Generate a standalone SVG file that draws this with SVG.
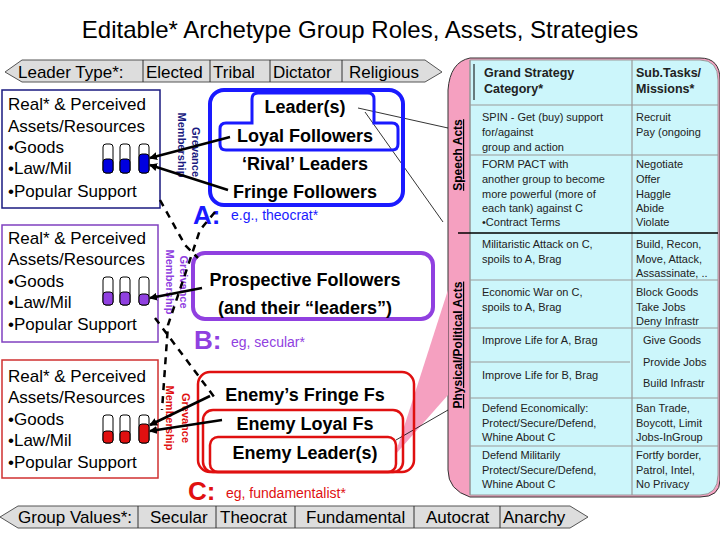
<svg xmlns="http://www.w3.org/2000/svg" width="720" height="540" viewBox="0 0 720 540">
<defs>
<marker id="ah" markerWidth="8" markerHeight="8" refX="7" refY="4" orient="auto" markerUnits="userSpaceOnUse"><path d="M0,0 L8,4 L0,8 z" fill="#000"/></marker>
<style>
text{font-family:"Liberation Sans",Arial,sans-serif}
.box{fill:#fff;stroke-width:1.5}
.lt{font-size:17px}
.gt{font-size:18px;font-weight:bold;text-anchor:middle}
.cell{font-size:11px;fill:#222}
.hd{font-size:12.5px;font-weight:bold;fill:#222}
.band{fill:#ddd;stroke:#555;stroke-width:1}
.bt{font-size:17px}
.arr{stroke:#000;stroke-width:2.5;fill:none;marker-end:url(#ah)}
.dash{stroke:#000;stroke-width:2.5;fill:none;stroke-dasharray:7,6}
.grid{stroke:#999;stroke-width:1.2}
.gv{font-size:11px;font-weight:bold;text-anchor:middle}
</style>
</defs>
<rect width="720" height="540" fill="#fff"/>
<text x="360" y="38" text-anchor="middle" font-size="24">Editable* Archetype Group Roles, Assets, Strategies</text>

<g id="top-band">
<polygon class="band" points="5,72 22,60 425,60 442,72 425,82 22,82"/>
<line x1="143" y1="60" x2="143" y2="82" stroke="#333"/><line x1="210" y1="60" x2="210" y2="82" stroke="#333"/><line x1="270" y1="60" x2="270" y2="82" stroke="#333"/><line x1="342" y1="60" x2="342" y2="82" stroke="#333"/>
<text class="bt" x="18" y="78">Leader Type*:</text><text class="bt" x="146" y="78">Elected</text><text class="bt" x="213" y="78">Tribal</text><text class="bt" x="273" y="78">Dictator</text><text class="bt" x="349" y="78">Religious</text>
</g>
<g id="bottom-band">
<polygon class="band" points="0,517 18,506 570,506 588,517 570,528 18,528"/>
<line x1="138" y1="506" x2="138" y2="528" stroke="#333"/><line x1="216" y1="506" x2="216" y2="528" stroke="#333"/><line x1="295" y1="506" x2="295" y2="528" stroke="#333"/><line x1="414" y1="506" x2="414" y2="528" stroke="#333"/><line x1="500" y1="506" x2="500" y2="528" stroke="#333"/>
<text class="bt" x="18" y="523">Group Values*:</text><text class="bt" x="150" y="523">Secular</text><text class="bt" x="220" y="523">Theocrat</text><text class="bt" x="306" y="523">Fundamental</text><text class="bt" x="426" y="523">Autocrat</text><text class="bt" x="503" y="523">Anarchy</text>
</g>

<g id="right-panel">
<path d="M470,58 L700,58 Q720,58 720,80 L720,480 Q720,497 700,497 L470,497 Q448,490 448,470 L448,90 Q450,62 470,58 z" fill="#f5a0c0" stroke="#333"/>
<path d="M470,60 L700,60 Q718,60 718,80 L718,475 Q718,495 700,495 L470,495 Z" fill="#ccf6fb" stroke="#999"/>
<line class="grid" x1="470" y1="60" x2="470" y2="495"/><line class="grid" x1="632" y1="60" x2="632" y2="495"/>
<line class="grid" x1="470" y1="105" x2="718" y2="105"/><line class="grid" x1="470" y1="155" x2="718" y2="155"/>
<line x1="458" y1="233" x2="718" y2="233" stroke="#000" stroke-width="1.5"/>
<line class="grid" x1="470" y1="280" x2="718" y2="280"/><line class="grid" x1="470" y1="328" x2="718" y2="328"/><line class="grid" x1="470" y1="362" x2="630" y2="362"/><line class="grid" x1="470" y1="398" x2="718" y2="398"/><line class="grid" x1="470" y1="446" x2="718" y2="446"/>
<line x1="474" y1="64" x2="474" y2="100" stroke="#000"/>
<text class="hd" x="484" y="77">Grand Strategy</text><text class="hd" x="484" y="93">Category*</text>
<text class="hd" x="636" y="77">Sub.Tasks/</text><text class="hd" x="636" y="93">Missions*</text>
<text class="cell" x="482" y="121">SPIN - Get (buy) support</text><text class="cell" x="482" y="136">for/against</text><text class="cell" x="482" y="151">group and action</text>
<text class="cell" x="636" y="121">Recruit</text><text class="cell" x="636" y="136">Pay (ongoing</text>
<text class="cell" x="482" y="168">FORM PACT with</text><text class="cell" x="482" y="183">another group to become</text><text class="cell" x="482" y="198">more powerful (more of</text><text class="cell" x="482" y="212">each tank) against C</text><text class="cell" x="482" y="226">•Contract Terms</text>
<text class="cell" x="636" y="168">Negotiate</text><text class="cell" x="636" y="183">Offer</text><text class="cell" x="636" y="198">Haggle</text><text class="cell" x="636" y="212">Abide</text><text class="cell" x="636" y="226">Violate</text>
<text class="cell" x="482" y="248">Militaristic Attack on C,</text><text class="cell" x="482" y="263">spoils to A, Brag</text>
<text class="cell" x="636" y="248">Build, Recon,</text><text class="cell" x="636" y="263">Move, Attack,</text><text class="cell" x="636" y="277">Assassinate, ..</text>
<text class="cell" x="482" y="296">Economic War on C,</text><text class="cell" x="482" y="311">spoils to A, Brag</text>
<text class="cell" x="636" y="296">Block Goods</text><text class="cell" x="636" y="311">Take Jobs</text><text class="cell" x="636" y="325">Deny Infrastr</text>
<text class="cell" x="482" y="344">Improve Life for A, Brag</text><text class="cell" x="482" y="379">Improve Life for B, Brag</text>
<text class="cell" x="643" y="344">Give Goods</text><text class="cell" x="643" y="366">Provide Jobs</text><text class="cell" x="643" y="387">Build Infrastr</text>
<text class="cell" x="482" y="412">Defend Economically:</text><text class="cell" x="482" y="427">Protect/Secure/Defend,</text><text class="cell" x="482" y="441">Whine About C</text>
<text class="cell" x="636" y="412">Ban Trade,</text><text class="cell" x="636" y="427">Boycott, Limit</text><text class="cell" x="636" y="441">Jobs-InGroup</text>
<text class="cell" x="482" y="459">Defend Militarily</text><text class="cell" x="482" y="474">Protect/Secure/Defend,</text><text class="cell" x="482" y="488">Whine About C</text>
<text class="cell" x="636" y="459">Fortfy border,</text><text class="cell" x="636" y="474">Patrol, Intel,</text><text class="cell" x="636" y="488">No Privacy</text>
<text x="462" y="155" transform="rotate(-90 462 155)" text-anchor="middle" font-size="12" font-weight="bold" text-decoration="underline">Speech Acts</text>
<text x="462" y="345" transform="rotate(-90 462 345)" text-anchor="middle" font-size="12" font-weight="bold" text-decoration="underline">Physical/Political Acts</text>
</g>

<g id="wedge">
<polygon points="395,455 448,290 448,395" fill="#f5a0c0"/>
<line x1="358" y1="108" x2="448" y2="128" stroke="#000" stroke-width="0.8"/>
<line x1="365" y1="112" x2="443" y2="222" stroke="#000" stroke-width="0.8"/>
<line x1="396" y1="440" x2="448" y2="410" stroke="#000" stroke-width="0.8"/>
</g>

<g id="assets-A">
<rect class="box" x="2" y="90" width="158" height="118" stroke="#1a1a80"/>
<text class="lt" x="8" y="110">Real* &amp; Perceived</text><text class="lt" x="8" y="132">Assets/Resources</text><text class="lt" x="8" y="153">•Goods</text><text class="lt" x="8" y="174">•Law/Mil</text><text class="lt" x="8" y="197">•Popular Support</text>
<g stroke="#000" stroke-width="1"><rect x="103" y="144" width="10" height="29" rx="3" fill="#fff"/><rect x="103" y="159" width="10" height="14" rx="3" fill="#0000e0"/><rect x="120" y="144" width="10" height="29" rx="3" fill="#fff"/><rect x="120" y="159" width="10" height="14" rx="3" fill="#0000e0"/><rect x="139" y="144" width="10" height="29" rx="3" fill="#fff"/><rect x="139" y="154" width="10" height="19" rx="3" fill="#0000e0"/></g>
</g>
<g id="assets-B">
<rect class="box" x="2" y="225" width="156" height="117" stroke="#8040c0"/>
<text class="lt" x="8" y="244">Real* &amp; Perceived</text><text class="lt" x="8" y="265">Assets/Resources</text><text class="lt" x="8" y="287">•Goods</text><text class="lt" x="8" y="308">•Law/Mil</text><text class="lt" x="8" y="330">•Popular Support</text>
<g stroke="#000" stroke-width="1"><rect x="103" y="277" width="10" height="28" rx="3" fill="#fff"/><rect x="103" y="292" width="10" height="13" rx="3" fill="#9040e0"/><rect x="120" y="277" width="10" height="28" rx="3" fill="#fff"/><rect x="120" y="292" width="10" height="13" rx="3" fill="#9040e0"/><rect x="139" y="277" width="10" height="28" rx="3" fill="#fff"/><rect x="139" y="294" width="10" height="11" rx="3" fill="#9040e0"/></g>
</g>
<g id="assets-C">
<rect class="box" x="2" y="360" width="156" height="118" stroke="#d03030"/>
<text class="lt" x="8" y="382">Real* &amp; Perceived</text><text class="lt" x="8" y="403">Assets/Resources</text><text class="lt" x="8" y="425">•Goods</text><text class="lt" x="8" y="446">•Law/Mil</text><text class="lt" x="8" y="468">•Popular Support</text>
<g stroke="#000" stroke-width="1"><rect x="103" y="415" width="10" height="28" rx="3" fill="#fff"/><rect x="103" y="431" width="10" height="12" rx="3" fill="#e01010"/><rect x="120" y="415" width="10" height="28" rx="3" fill="#fff"/><rect x="120" y="431" width="10" height="12" rx="3" fill="#e01010"/><rect x="139" y="415" width="10" height="28" rx="3" fill="#fff"/><rect x="139" y="424" width="10" height="19" rx="3" fill="#e01010"/></g>
</g>

<g id="group-A">
<rect x="210" y="90" width="193" height="115" rx="14" fill="none" stroke="#1a1aff" stroke-width="4"/>
<path d="M258,93 L368,93 Q374,93 374,99 L374,123 L392,123 Q398,123 398,129 L398,144 Q398,150 392,150 L226,150 Q220,150 220,144 L220,129 Q220,123 226,123 L252,123 L252,99 Q252,93 258,93 Z" fill="none" stroke="#1a1aff" stroke-width="3"/>
<text class="gt" x="305" y="113">Leader(s)</text><text class="gt" x="305" y="142">Loyal Followers</text><text class="gt" x="305" y="170">‘Rival’ Leaders</text><text class="gt" x="305" y="198">Fringe Followers</text>
<text x="193" y="224" font-size="26" font-weight="bold" fill="#1a1aff">A:</text><text x="231" y="220" font-size="14" fill="#1a1aff">e.g., theocrat*</text>
<text x="192" y="152" transform="rotate(90 192 152)" class="gv" fill="#1a1a80">Grevance</text>
<text x="178" y="145" transform="rotate(90 178 145)" class="gv" fill="#1a1a80">Membership</text>
</g>
<g id="group-B">
<rect x="193" y="253" width="240" height="66" rx="12" fill="none" stroke="#9040e0" stroke-width="4"/>
<text class="gt" x="305" y="286">Prospective Followers</text><text class="gt" x="305" y="314">(and their “leaders”)</text>
<text x="194" y="349" font-size="26" font-weight="bold" fill="#9040e0">B:</text><text x="231" y="347" font-size="14" fill="#9040e0">eg, secular*</text>
<text x="180" y="282" transform="rotate(90 180 282)" class="gv" fill="#9040e0">Greivance</text>
<text x="166" y="282" transform="rotate(90 166 282)" class="gv" fill="#9040e0">Membership</text>
</g>
<g id="group-C">
<rect x="198" y="372" width="216" height="100" rx="12" fill="none" stroke="#e01010" stroke-width="2.5"/>
<rect x="203" y="410" width="200" height="62" rx="10" fill="none" stroke="#e01010" stroke-width="2.5"/>
<rect x="210" y="437" width="186" height="35" rx="8" fill="none" stroke="#e01010" stroke-width="2.5"/>
<text class="gt" x="305" y="401">Enemy’s Fringe Fs</text><text class="gt" x="305" y="430">Enemy Loyal Fs</text><text class="gt" x="305" y="459">Enemy Leader(s)</text>
<text x="188" y="500" font-size="26" font-weight="bold" fill="#e01010">C:</text><text x="226" y="498" font-size="14" fill="#e01010">eg, fundamentalist*</text>
<text x="182" y="418" transform="rotate(90 182 418)" class="gv" fill="#e01010">Grevance</text>
<text x="166" y="418" transform="rotate(90 166 418)" class="gv" fill="#e01010">Membership</text>
</g>

<g id="connectors">
<line class="arr" x1="230" y1="137" x2="150" y2="158"/>
<line class="arr" x1="228" y1="190" x2="150" y2="165"/>
<line class="arr" x1="202" y1="288" x2="150" y2="298"/>
<line class="arr" x1="210" y1="396" x2="150" y2="425"/>
<line class="arr" x1="222" y1="420" x2="150" y2="431"/>
<path class="dash" d="M215,212 L200,230 L168,325 L162,410"/>
<path class="dash" d="M160,200 L185,245 L198,258"/>
<path class="dash" d="M155,318 L215,398"/>
</g>
</svg>
